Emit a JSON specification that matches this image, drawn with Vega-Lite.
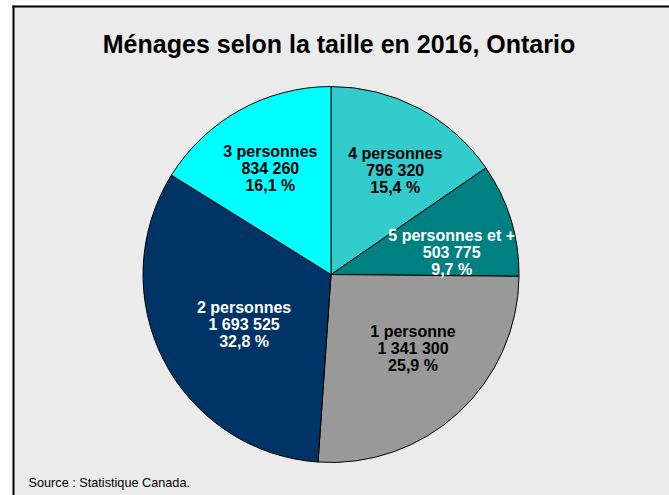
{
  "$schema": "https://vega.github.io/schema/vega-lite/v6.json",
  "width": 656,
  "height": 489,
  "autosize": {"type": "none"},
  "padding": {"left": 13, "top": 6, "right": 0, "bottom": 0},
  "background": "white",
  "config": {"view": {"fill": "#EBEBEB", "stroke": null}},
  "title": {
    "text": "Ménages selon la taille en 2016, Ontario",
    "orient": "top",
    "anchor": "middle",
    "frame": "group",
    "font": "Liberation Sans",
    "fontSize": 25,
    "fontWeight": "bold",
    "color": "black",
    "baseline": "alphabetic",
    "offset": -72,
    "dx": -2
  },
  "data": {
    "values": [
      {"taille": "4 personnes", "menages": 796320, "ordre": 1, "label": "4 personnes\n796 320\n15,4 %"},
      {"taille": "5 personnes et +", "menages": 503775, "ordre": 2, "label": "5 personnes et +\n503 775\n9,7 %"},
      {"taille": "1 personne", "menages": 1341300, "ordre": 3, "label": "1 personne\n1 341 300\n25,9 %"},
      {"taille": "2 personnes", "menages": 1693525, "ordre": 4, "label": "2 personnes\n1 693 525\n32,8 %"},
      {"taille": "3 personnes", "menages": 834260, "ordre": 5, "label": "3 personnes\n834 260\n16,1 %"}
    ]
  },
  "encoding": {
    "x": {
      "datum": "centre",
      "type": "nominal",
      "scale": {"type": "point", "align": 0.4848},
      "axis": {"orient": "top", "domain": true, "domainColor": "black", "domainWidth": 2, "domainCap": "square", "ticks": false, "labels": false, "grid": false, "title": null}
    },
    "y": {
      "datum": "centre",
      "type": "nominal",
      "scale": {"type": "point", "align": 0.5491},
      "axis": {
        "orient": "left", "domain": true, "domainColor": "black", "domainWidth": 2, "domainCap": "square", "ticks": false, "labels": false, "grid": false,
        "title": "Source : Statistique Canada.",
        "titleAngle": 0, "titleX": 15, "titleY": 480, "titleAlign": "left", "titleBaseline": "alphabetic",
        "titleFont": "Liberation Sans", "titleFontSize": 12.7, "titleFontWeight": "normal", "titleColor": "black"
      }
    },
    "theta": {"field": "menages", "type": "quantitative", "stack": true},
    "order": {"field": "ordre", "type": "quantitative"}
  },
  "layer": [
    {
      "mark": {"type": "arc", "outerRadius": 188, "stroke": "black", "strokeWidth": 1},
      "encoding": {
        "color": {
          "field": "taille",
          "type": "nominal",
          "scale": {
            "domain": ["4 personnes", "5 personnes et +", "1 personne", "2 personnes", "3 personnes"],
            "range": ["#33CCCC", "#008080", "#999999", "#003366", "#00FFFF"]
          },
          "legend": null
        }
      }
    },
    {
      "mark": {"type": "text", "radius": 123, "dx": 7, "dy": -12, "font": "Liberation Sans", "fontSize": 16, "fontWeight": "bold", "lineHeight": 17, "lineBreak": "\n", "color": "black", "align": "center", "baseline": "middle"},
      "encoding": {"text": {"condition": {"test": "datum.taille === '4 personnes'", "field": "label"}, "value": ""}}
    },
    {
      "mark": {"type": "text", "radius": 122, "dx": 4, "dy": -3, "font": "Liberation Sans", "fontSize": 16, "fontWeight": "bold", "lineHeight": 17, "lineBreak": "\n", "color": "white", "align": "center", "baseline": "middle"},
      "encoding": {"text": {"condition": {"test": "datum.taille === '5 personnes et +'", "field": "label"}, "value": ""}}
    },
    {
      "mark": {"type": "text", "radius": 109, "dx": 8, "dy": -23, "font": "Liberation Sans", "fontSize": 16, "fontWeight": "bold", "lineHeight": 17, "lineBreak": "\n", "color": "black", "align": "center", "baseline": "middle"},
      "encoding": {"text": {"condition": {"test": "datum.taille === '1 personne'", "field": "label"}, "value": ""}}
    },
    {
      "mark": {"type": "text", "radius": 101, "dx": 3, "dy": -12, "font": "Liberation Sans", "fontSize": 16, "fontWeight": "bold", "lineHeight": 17, "lineBreak": "\n", "color": "white", "align": "center", "baseline": "middle"},
      "encoding": {"text": {"condition": {"test": "datum.taille === '2 personnes'", "field": "label"}, "value": ""}}
    },
    {
      "mark": {"type": "text", "radius": 123, "dx": -1, "dy": -15, "font": "Liberation Sans", "fontSize": 16, "fontWeight": "bold", "lineHeight": 17, "lineBreak": "\n", "color": "black", "align": "center", "baseline": "middle"},
      "encoding": {"text": {"condition": {"test": "datum.taille === '3 personnes'", "field": "label"}, "value": ""}}
    }
  ]
}
